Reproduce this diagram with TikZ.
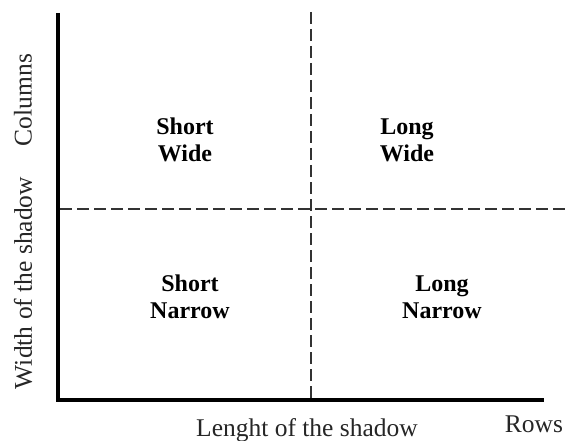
\documentclass[tikz,border=0pt]{standalone}
\usepackage{fontspec}
\setmainfont{Liberation Serif}
\begin{document}
\begin{tikzpicture}[x=1pt,y=-1pt,
  axis/.style={line width=3.8pt},
  divider/.style={line width=1.6pt, black!80, dash pattern=on 12pt off 5pt},
  quad/.style={font=\fontsize{24}{27}\selectfont\bfseries, align=center, text=black},
  lab/.style={font=\fontsize{25.5}{29}\selectfont, text=black!85, inner sep=0pt}]
\useasboundingbox (0,0) rectangle (565,441);
% axes
\coordinate (top) at (58,13);
\coordinate (origin) at (58,400);
\coordinate (right) at (544,400);
\draw[axis] (top) -- (origin) -- (right);
% dividers
\coordinate (vtop) at (311,12);
\coordinate (vbot) at (311,398);
\coordinate (hleft) at (60,209);
\coordinate (hright) at (565,209);
\draw[divider] (vtop) -- (vbot);
\draw[divider] (hleft) -- (hright);
% quadrant labels
\node[quad] (sw) at (185,140) {Short\\Wide};
\node[quad] (lw) at (407,140) {Long\\Wide};
\node[quad] (sn) at (190,297) {Short\\Narrow};
\node[quad] (ln) at (442,297) {Long\\Narrow};
% axis labels
\node[lab, rotate=90] (cols) at (23,100) {Columns};
\node[lab, rotate=90] (width) at (23,283) {Width of the shadow};
\node[lab, anchor=base] (rows) at (534,432) {Rows};
\node[lab, anchor=base] (len) at (307,436) {Lenght of the shadow};
\end{tikzpicture}
\end{document}
